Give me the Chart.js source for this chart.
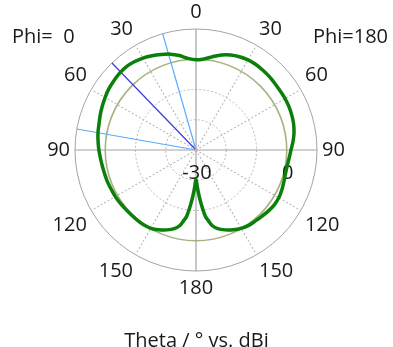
<!DOCTYPE html>
<html>
<head>
<meta charset="utf-8">
<script src="https://cdn.jsdelivr.net/npm/chart.js@4/dist/chart.umd.min.js"></script>
<style>
  body { margin: 0; background: #fff; }
  canvas { display: block; }
</style>
</head>
<body>
<canvas id="polarChart" width="393" height="347"></canvas>
<script>
// Farfield cut, Theta in degrees, gain in dBi
const thetaDeg = [0, 5, 10, 15, 20, 25, 30, 35, 40, 45, 50, 55, 60, 65, 70, 75, 80, 85, 90,
  95, 100, 105, 110, 115, 120, 125, 130, 135, 140, 145, 150, 155, 160, 165, 168, 170, 172, 174, 176, 178, 180];

// Phi = 0 (left half of the plot)
const gainPhi0 = [-0.2, 0.4, 1.7, 2.8, 3.6, 4.4, 5.1, 5.6, 5.9, 5.8, 5.5, 5.2, 4.7, 4.2, 3.7, 3.2, 2.9, 2.5, 2.1,
  1.7, 1.4, 1.2, 1.1, 0.9, 0.8, 0.6, 0.4, 0.3, 0.25, 0.2, -0.1, -0.9, -1.9, -3.2, -4.5, -6.2, -7.9, -11.2, -14.5, -17.8, -20.4];

// Phi = 180 (right half of the plot)
const gainPhi180 = [-0.2, 0.2, 1.3, 2.5, 3.4, 4.0, 4.4, 4.5, 4.4, 4.3, 4.1, 4.0, 4.0, 3.9, 3.7, 3.4, 2.9, 2.2, 1.4,
  0.9, 0.6, 0.6, 0.9, 1.3, 1.6, 1.6, 1.3, 0.9, 0.6, 0.4, -0.1, -0.9, -1.9, -3.2, -4.5, -6.2, -7.9, -11.2, -14.5, -17.8, -20.4];

// radial axis (dBi)
const rMin = -30, rMax = 10, rStep = 10;
const rTickLabels = [-30, 0];
const refLevel = 0;            // thin olive circle

// main lobe direction and 3 dB angular width, Theta on the Phi=0 side
const mainLobeTheta = 44;
const beamEdgesTheta = [16, 80];

const FONT = "'Open Sans', 'Noto Sans', sans-serif";

// one slot per degree, clockwise from the top: right side is Phi=180, left side Phi=0
const slots = Array.from({length: 360}, (_, i) => i);
const curve = slots.map(() => null);
thetaDeg.forEach((t, j) => {
  curve[t] = gainPhi180[j];
  curve[(360 - t) % 360] = gainPhi0[j];
});
const thetaOfSlot = a => (a <= 180 ? a : 360 - a);

const mainSlot = 360 - mainLobeTheta;
const edgeSlots = beamEdgesTheta.map(t => 360 - t);

// texts that are not part of the scale: phi captions and the radial tick values
const textPlugin = {
  id: 'cstTexts',
  beforeDatasetsDraw(chart) {
    const ctx = chart.ctx;
    const s = chart.scales.r;
    ctx.save();
    ctx.font = '20px ' + FONT;
    ctx.fillStyle = '#1a1a1a';
    ctx.textBaseline = 'middle';
    ctx.textAlign = 'center';
    rTickLabels.forEach(v => {
      ctx.fillText(String(v), s.xCenter + s.getDistanceFromCenterForValue(v) + 1, s.yCenter + 23);
    });
    ctx.textAlign = 'left';
    ctx.fillText('Phi=  0', 12, 37);
    ctx.textAlign = 'right';
    ctx.fillText('Phi=180', 388, 37);
    ctx.restore();
  }
};

new Chart(document.getElementById('polarChart'), {
  type: 'radar',
  data: {
    labels: slots,
    datasets: [{
      data: curve,
      borderColor: '#0a7f0a',
      borderWidth: 3.5,
      borderJoinStyle: 'round',
      pointRadius: 0,
      fill: false,
      spanGaps: true,
      tension: 0.3
    }]
  },
  options: {
    responsive: false,
    animation: false,
    events: [],
    layout: { padding: 0 },
    plugins: {
      legend: { display: false },
      tooltip: { enabled: false },
      title: {
        display: true,
        text: 'Theta / ° vs. dBi',
        position: 'bottom',
        color: '#1a1a1a',
        font: { family: FONT, size: 20, weight: 'normal' },
        padding: { top: 29, bottom: -6 }
      }
    },
    scales: {
      r: {
        min: rMin,
        max: rMax,
        ticks: { stepSize: rStep, display: false },
        grid: {
          circular: true,
          color: c => c.tick.value === refLevel ? '#a6b27f' : (c.tick.value === rMax ? '#a3a3a3' : '#b8b8b8'),
          lineWidth: c => c.tick.value === refLevel ? 1.6 : 1
        },
        border: {
          dash: c => (c.tick && (c.tick.value === refLevel || c.tick.value === rMax)) ? [] : [2, 2]
        },
        angleLines: {
          color: c => {
            if (c.index === mainSlot) return '#3a3ad6';
            if (edgeSlots.includes(c.index)) return '#55aaff';
            if (c.index % 90 === 0) return '#a3a3a3';
            if (c.index % 30 === 0) return '#bdbdbd';
            return 'rgba(0,0,0,0)';
          },
          lineWidth: c => (c.index === mainSlot || edgeSlots.includes(c.index) || c.index % 30 === 0) ? 1.2 : 0,
          borderDash: c => (c.index % 30 === 0 && c.index % 90 !== 0) ? [2, 2] : []
        },
        pointLabels: {
          color: '#1a1a1a',
          padding: 5,
          font: { family: FONT, size: 20 },
          callback: (label, i) => (i % 30 === 0 ? String(thetaOfSlot(i)) : '')
        }
      }
    }
  },
  plugins: [textPlugin]
});
</script>
</body>
</html>
